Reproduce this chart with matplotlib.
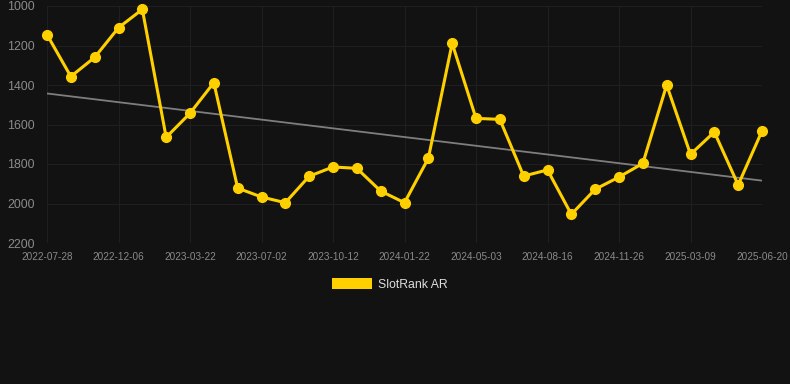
import numpy as np
import matplotlib
matplotlib.use("Agg")
import matplotlib.pyplot as plt
from matplotlib.patches import Patch

plt.rcParams['font.family'] = ['Liberation Sans', 'DejaVu Sans']

tick_labels = ["2022-07-28", "2022-12-06", "2023-03-22", "2023-07-02", "2023-10-12",
               "2024-01-22", "2024-05-03", "2024-08-16", "2024-11-26", "2025-03-09",
               "2025-06-20"]
series_name = "SlotRank AR"
values = [1145, 1357, 1260, 1110, 1017, 1665, 1543, 1388, 1922, 1967, 1996,
          1862, 1815, 1822, 1937, 1996, 1771, 1189, 1569, 1574, 1861, 1830,
          2055, 1928, 1866, 1797, 1400, 1751, 1638, 1906, 1633]
y_ticks = [1000, 1200, 1400, 1600, 1800, 2000, 2200]
tick_step = 3

bg = "#121212"
fig = plt.figure(figsize=(7.9, 3.84), dpi=100, facecolor=bg)
ax = fig.add_axes([47/790, 1-243/384, (762-47)/790, (243-6)/384])
ax.set_facecolor(bg)

x = np.arange(len(values))
vals = np.array(values, dtype=float)

# trend line (linear regression)
k, b = np.polyfit(x, vals, 1)
ax.plot(x, k*x + b, color="#7e7e7e", lw=1.3, zorder=2)

ax.plot(x, vals, color="#FFD000", lw=2.2, marker="o", markersize=7.0,
        markerfacecolor="#FFD000", markeredgecolor="#FFD000", zorder=3,
        clip_on=False)

ax.set_xlim(0, len(values)-1)
ax.set_ylim(2200, 1000)
ax.set_yticks(y_ticks)
ax.set_yticklabels([str(v) for v in y_ticks])
xt = x[::tick_step]
ax.set_xticks(xt)
ax.set_xticklabels(tick_labels)

ax.grid(True, color="#1f1f1f", lw=0.8)
ax.set_axisbelow(True)
for s in ax.spines.values():
    s.set_visible(False)
ax.tick_params(axis="both", length=0)
ax.tick_params(axis="y", colors="#8a8a8a", labelsize=8.9, pad=9)
ax.tick_params(axis="x", colors="#8a8a8a", labelsize=7.2, pad=6.5)

handle = Patch(facecolor="#FFD000", edgecolor="none")
leg = fig.legend([handle], [series_name], loc="center",
                 bbox_to_anchor=(0.4935, 1-284.5/384), frameon=False,
                 fontsize=8.8, handlelength=3.3, handleheight=1.0,
                 handletextpad=0.5, labelcolor="#dddddd")

fig.savefig("out.png", dpi=100, facecolor=bg)
